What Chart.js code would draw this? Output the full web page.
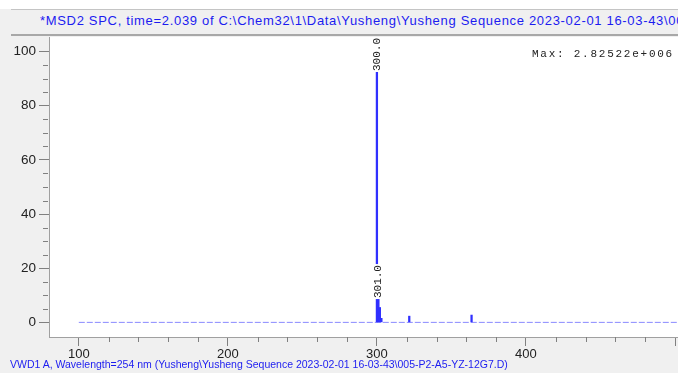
<!DOCTYPE html>
<html>
<head>
<meta charset="utf-8">
<script src="https://cdn.jsdelivr.net/npm/chart.js@4.4.1/dist/chart.umd.min.js"></script>
<style>
  body { margin: 0; background: #fff; }
  #wrap { position: relative; width: 678px; height: 373px; overflow: hidden; background: #f0f0f0; }
  #graf { position: absolute; left: 0; top: 0; }
  #topo { position: absolute; left: 0; top: 0; width: 678px; height: 9px; background: #fff; }
  #cabec { position: absolute; left: 11px; top: 9px; width: 667px; background: #f0f0f0;
           border-top: 1px solid #c4c4c4; border-bottom: 2px solid #a8a8a8; box-sizing: border-box; height: 27px; }
  #titulo { position: absolute; left: 29px; top: 3px; white-space: nowrap; font: 13px "Liberation Sans", Arial, sans-serif; letter-spacing: 0.68px; color: #1c1cf0; }
  #rodape { position: absolute; left: 10px; top: 358px; white-space: nowrap; font: 10.5px "Liberation Sans", Arial, sans-serif; color: #1c1cf0; }
  #maximo { position: absolute; left: 532px; top: 48px; white-space: nowrap; font: 11px "Liberation Mono", monospace; letter-spacing: 1.75px; color: #222; }
</style>
</head>
<body>
<div id="wrap">
  <canvas id="graf" width="678" height="373"></canvas>
  <div id="topo"></div>
  <div id="cabec"><div id="titulo">*MSD2 SPC, time=2.039 of C:\Chem32\1\Data\Yusheng\Yusheng Sequence 2023-02-01 16-03-43\005-P2-A5-YZ-12G7.D</div></div>
  <div id="maximo">Max: 2.82522e+006</div>
  <div id="rodape">VWD1 A, Wavelength=254 nm (Yusheng\Yusheng Sequence 2023-02-01 16-03-43\005-P2-A5-YZ-12G7.D)</div>
</div>
<script>
// picos (m/z e abundancia relativa %)
const mz = [300.0, 301.0, 302.0, 303.0, 321.7, 363.5];
const abund = [100, 16, 5.5, 1.5, 2.3, 2.7];

// linha de base pontilhada
const baseMz = [100, 502];
const baseNivel = [0, 0];

// rotulos dos picos
const rotMz = [300.0, 301.0];
const rotAbund = [100, 16];

// ticks
const ticksX = [];
for (let v = 100; v <= 500; v += 20) ticksX.push(v);
const ticksY = [];
for (let v = 0; v <= 100; v += 5) ticksY.push(v);

const azul = '#3030ff';

// fundo branco da area do grafico
const fundo = {
  id: 'fundo',
  beforeDraw(chart) {
    const a = chart.chartArea, c = chart.ctx;
    c.save();
    c.fillStyle = '#fff';
    c.fillRect(a.left, a.top, a.right - a.left, a.bottom - a.top);
    c.restore();
  }
};

// ticks menores (mais curtos)
const menores = {
  id: 'menores',
  afterDraw(chart) {
    const c = chart.ctx, x = chart.scales.x, y = chart.scales.y;
    c.save();
    c.strokeStyle = '#808080';
    c.lineWidth = 1;
    c.beginPath();
    ticksX.filter(v => v % 100 !== 0).forEach(v => {
      const px = Math.round(x.getPixelForValue(v)) + 0.5;
      c.moveTo(px, y.bottom); c.lineTo(px, y.bottom + 5);
    });
    ticksY.filter(v => v % 20 !== 0).forEach(v => {
      const py = Math.round(y.getPixelForValue(v)) + 0.5;
      c.moveTo(x.left - 6, py); c.lineTo(x.left - 1, py);
    });
    c.stroke();
    c.restore();
  }
};

// rotulos verticais dos picos
const rotulos = {
  id: 'rotulos',
  afterDatasetsDraw(chart) {
    const c = chart.ctx, x = chart.scales.x, y = chart.scales.y;
    c.save();
    c.font = '11px "Liberation Mono", monospace';
    rotMz.forEach((m, i) => {
      const px = x.getPixelForValue(m);
      const py = y.getPixelForValue(rotAbund[i]) - 14;
      const txt = m.toFixed(1);
      const w = c.measureText(txt).width;
      c.save();
      c.translate(px, Math.max(py, y.top + 1));
      c.rotate(-Math.PI / 2);
      c.fillStyle = '#fff';
      c.fillRect(-w - 1, -5, w + 2, 10);
      c.fillStyle = '#222';
      c.textAlign = 'right';
      c.textBaseline = 'middle';
      c.fillText(txt, 0, 0);
      c.restore();
    });
    c.restore();
  }
};

new Chart(document.getElementById('graf'), {
  type: 'bar',
  data: {
    datasets: [
      {
        type: 'line',
        data: baseMz.map((m, i) => ({ x: m, y: baseNivel[i] })),
        borderColor: 'rgba(60,60,255,0.6)',
        borderWidth: 1,
        borderDash: [6, 2],
        pointRadius: 0,
        order: 2
      },
      {
        type: 'bar',
        data: mz.map((m, i) => ({ x: m, y: abund[i] })),
        backgroundColor: azul,
        barThickness: 1.6,
        grouped: false,
        order: 1
      }
    ]
  },
  options: {
    responsive: false,
    devicePixelRatio: 1,
    animation: false,
    layout: { padding: { top: 37, right: 0, left: 0, bottom: 0 } },
    plugins: { legend: { display: false }, tooltip: { enabled: false } },
    scales: {
      x: {
        type: 'linear',
        offset: false,
        min: 80,
        max: 502,
        afterBuildTicks: s => { s.ticks = ticksX.map(v => ({ value: v })); },
        afterFit: s => { s.height = 36; },
        ticks: {
          autoSkip: false,
          maxRotation: 0,
          padding: 1,
          color: '#222',
          font: { family: '"Liberation Sans", Arial, sans-serif', size: 13 },
          callback: v => (v % 100 === 0 && v < 500) ? v : ''
        },
        grid: {
          offset: false,
          drawOnChartArea: false,
          tickLength: 9,
          tickColor: ctx => (ctx.tick && ctx.tick.value % 100 === 0) ? '#808080' : 'transparent'
        },
        border: { color: '#a0a0a0' }
      },
      y: {
        type: 'linear',
        min: -5.4,
        max: 105.4,
        afterBuildTicks: s => { s.ticks = ticksY.map(v => ({ value: v })); },
        afterFit: s => { s.width = 49; },
        ticks: {
          autoSkip: false,
          padding: 3,
          color: '#222',
          font: { family: '"Liberation Sans", Arial, sans-serif', size: 13.5 },
          callback: v => (v % 20 === 0) ? v : ''
        },
        grid: {
          drawOnChartArea: false,
          tickLength: 10,
          tickColor: ctx => (ctx.tick && ctx.tick.value % 20 === 0) ? '#808080' : 'transparent'
        },
        border: { color: '#a0a0a0' }
      }
    }
  },
  plugins: [fundo, menores, rotulos]
});
</script>
</body>
</html>
